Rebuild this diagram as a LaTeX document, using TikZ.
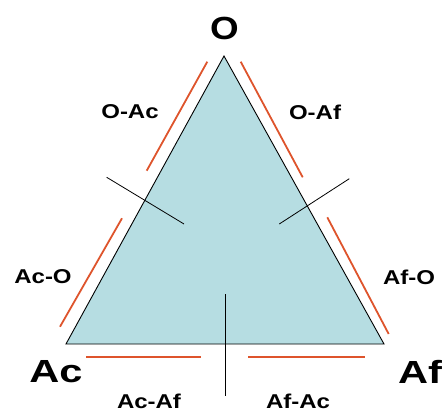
\documentclass[tikz,border=0pt]{standalone}
\usepackage{fontspec}
\setmainfont{Liberation Sans}
\usepackage{graphicx}
\definecolor{trifill}{RGB}{182,221,226}
\definecolor{edgered}{RGB}{222,84,44}
\begin{document}
\begin{tikzpicture}[x=1pt,y=-1pt,
  lab/.style={font=\bfseries\fontsize{20}{24}\selectfont, inner sep=0pt},
  big/.style={font=\bfseries\fontsize{32}{38}\selectfont, inner sep=0pt},
  redline/.style={draw=edgered, line width=1.8pt},
  tick/.style={draw=black, line width=0.8pt},
  tri/.style={draw=black, line width=0.9pt, fill=trifill}]
\useasboundingbox (0,0) rectangle (442,412);
\coordinate (O) at (224,56);
\coordinate (Ac) at (66,344);
\coordinate (Af) at (384,344);
\draw[tri] (O) -- (Ac) -- (Af) -- cycle;
% red side marks
\coordinate (r1a) at (207.3,61.7); \coordinate (r1b) at (146.7,170.7);
\coordinate (r2a) at (122,218.3);  \coordinate (r2b) at (60,326.7);
\coordinate (r3a) at (240.7,61.7); \coordinate (r3b) at (302.7,177.3);
\coordinate (r4a) at (327.3,217.3); \coordinate (r4b) at (388.7,334);
\coordinate (r5a) at (86,357.3);   \coordinate (r5b) at (201.3,357.3);
\coordinate (r6a) at (248,357.3);  \coordinate (r6b) at (364.7,357.3);
\draw[redline] (r1a) -- (r1b);
\draw[redline] (r2a) -- (r2b);
\draw[redline] (r3a) -- (r3b);
\draw[redline] (r4a) -- (r4b);
\draw[redline] (r5a) -- (r5b);
\draw[redline] (r6a) -- (r6b);
% black dividers
\coordinate (k1a) at (106.7,177.3); \coordinate (k1b) at (184,224);
\coordinate (k2a) at (349.3,178.7); \coordinate (k2b) at (279.3,224);
\coordinate (k3a) at (225.3,294);   \coordinate (k3b) at (225.3,396);
\draw[tick] (k1a) -- (k1b);
\draw[tick] (k2a) -- (k2b);
\draw[tick] (k3a) -- (k3b);
% labels
\node[big] (lO) at (224.5,28) {\scalebox{1.15}[1]{O}};
\node[big] (lAc) at (56,372) {\scalebox{1.3}[1]{Ac}};
\node[big] (lAf) at (420,372) {\scalebox{1.3}[1]{Af}};
\node[lab] (lOAc) at (130,112) {\scalebox{1.2}[1]{O-Ac}};
\node[lab] (lOAf) at (315,112) {\scalebox{1.2}[1]{O-Af}};
\node[lab] (lAcO) at (43,277) {\scalebox{1.2}[1]{Ac-O}};
\node[lab] (lAfO) at (409,277) {\scalebox{1.2}[1]{Af-O}};
\node[lab] (lAcAf) at (149,401) {\scalebox{1.2}[1]{Ac-Af}};
\node[lab] (lAfAc) at (298,401) {\scalebox{1.2}[1]{Af-Ac}};
\end{tikzpicture}
\end{document}
